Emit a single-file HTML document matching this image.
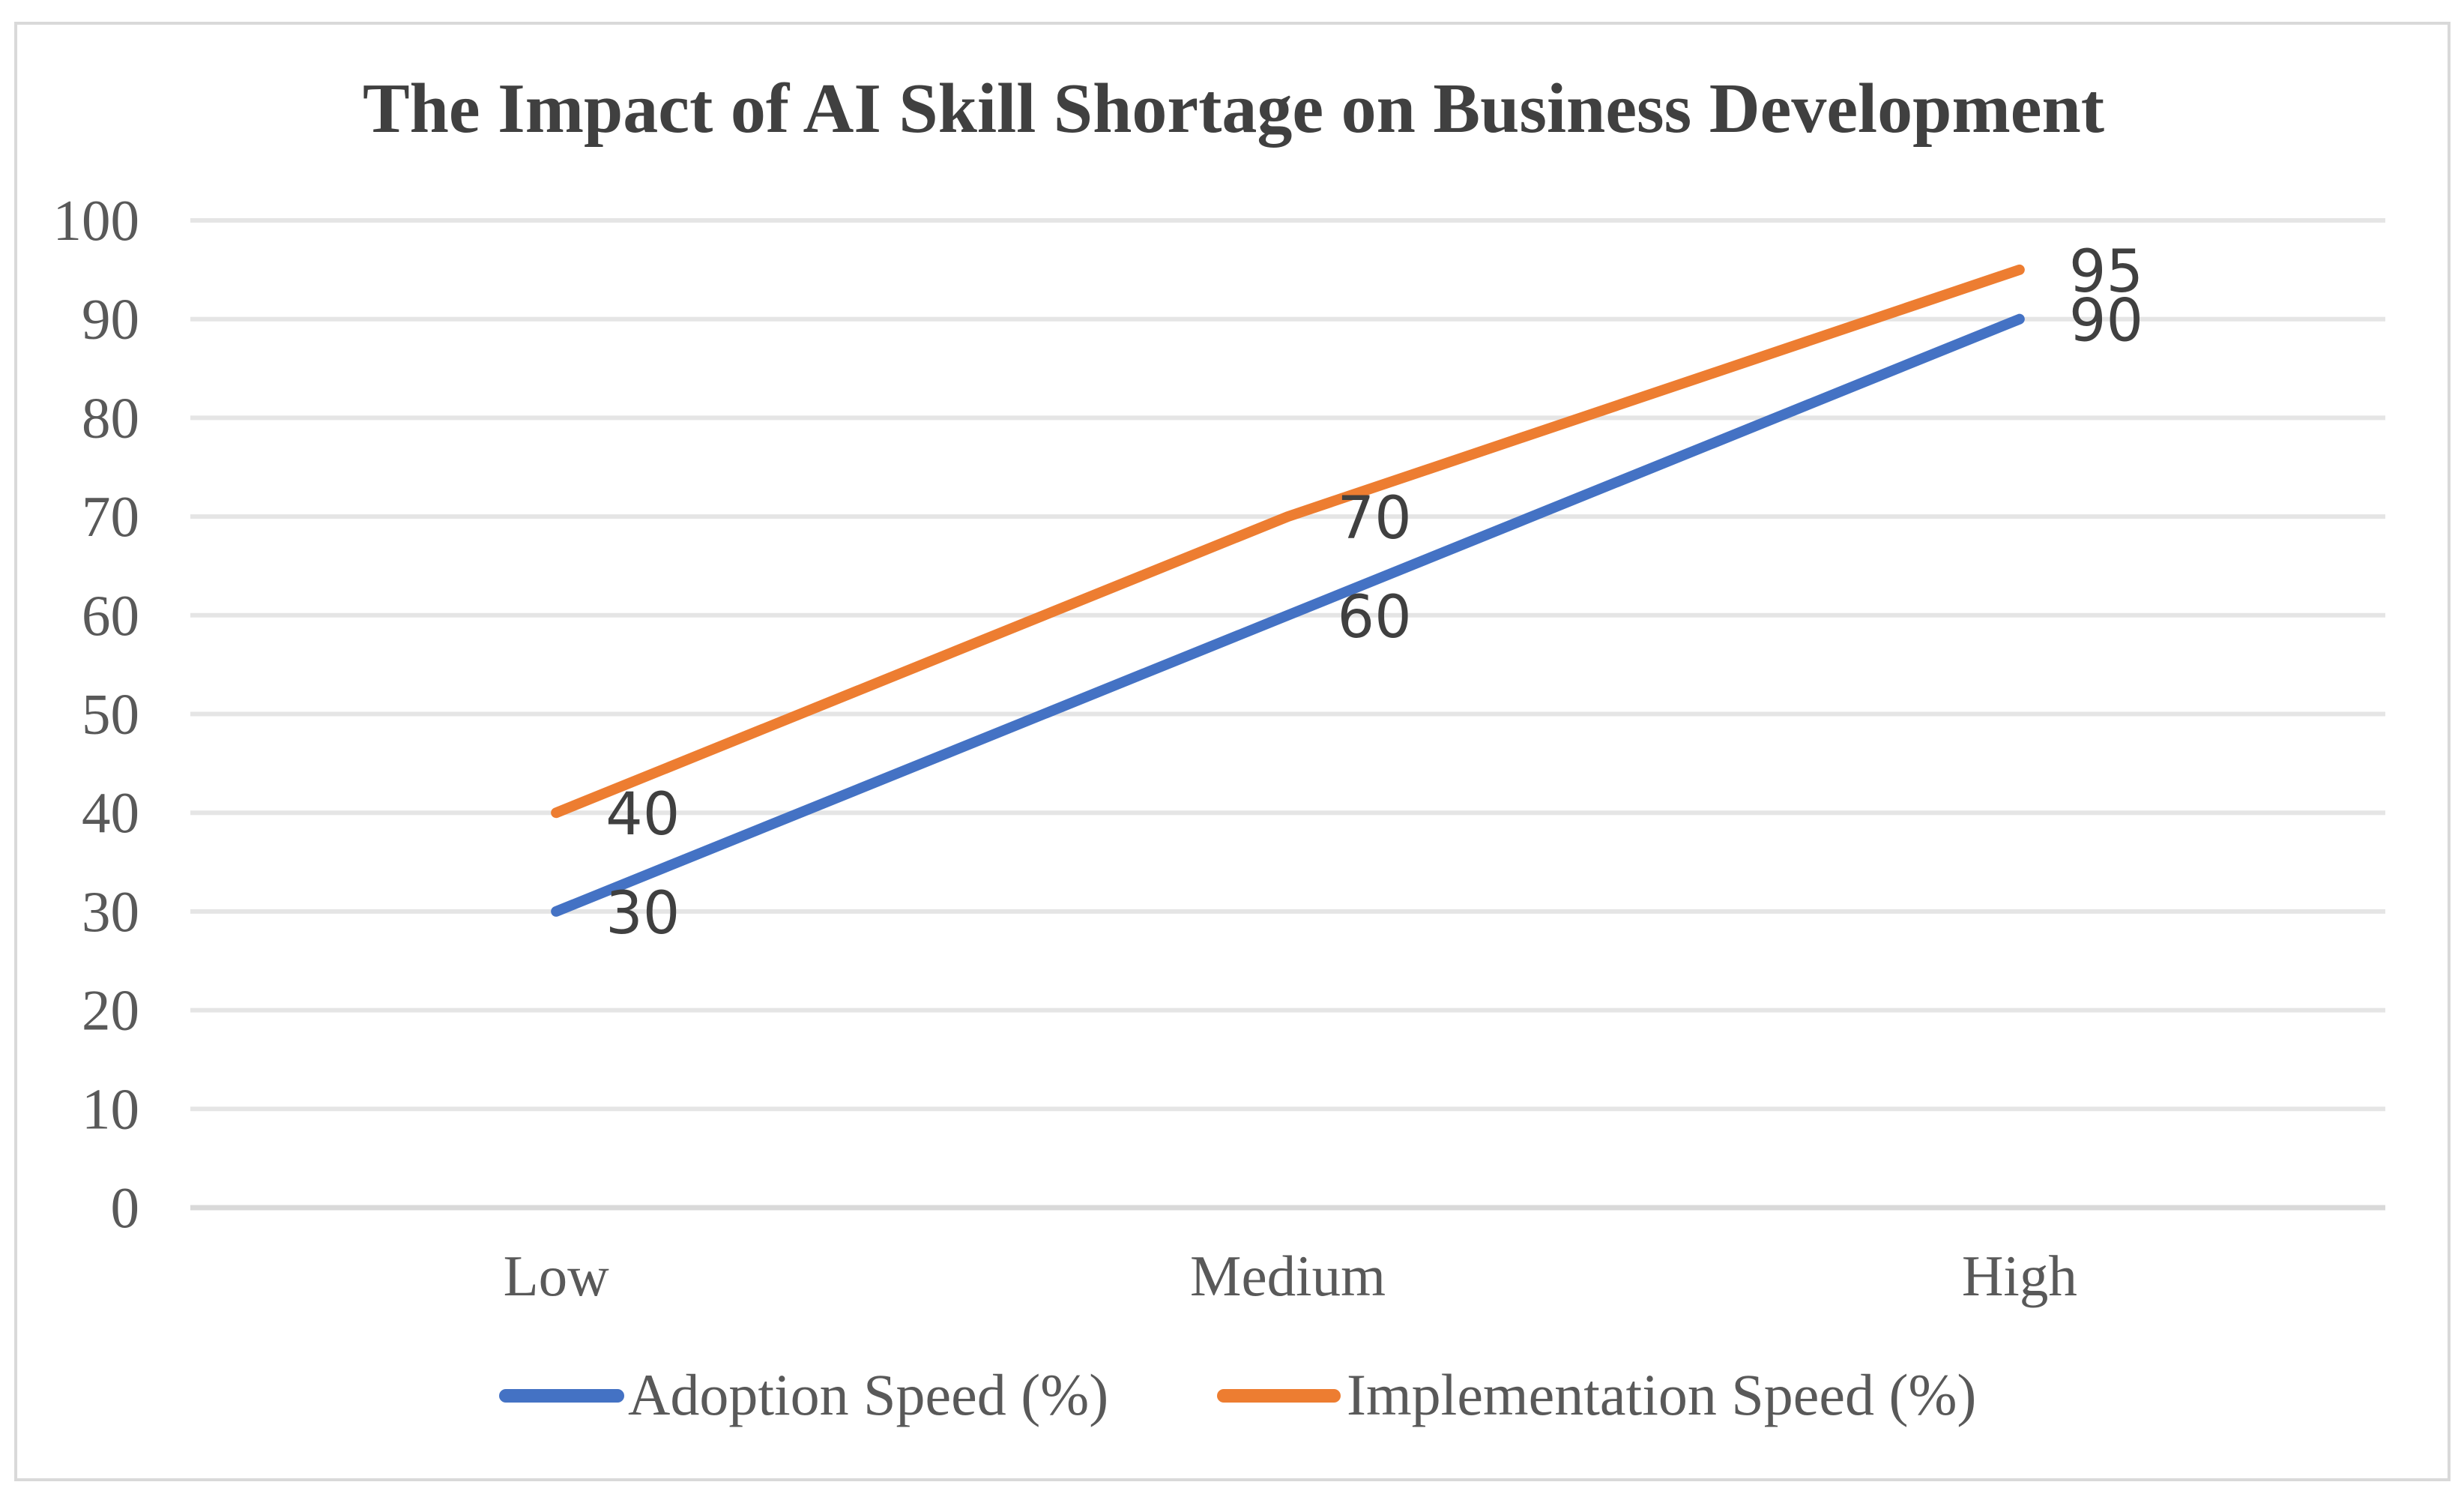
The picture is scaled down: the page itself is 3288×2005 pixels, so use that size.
<!DOCTYPE html>
<html><head><meta charset="utf-8"><style>
html,body{margin:0;padding:0;background:#fff;}
svg{display:block;}
</style></head><body>
<svg id="chart" width="3288" height="2005" xmlns="http://www.w3.org/2000/svg">
<rect x="21" y="31" width="3247" height="1943" fill="#fff" stroke="#d9d9d9" stroke-width="4"/>
<text x="1646" y="176" text-anchor="middle" font-family="Liberation Serif, serif" font-weight="bold" font-size="94" fill="#404040">The Impact of AI Skill Shortage on Business Development</text>
<g id="grid"></g><g id="series"></g><g id="labels"></g>
<g>
<line x1="675" y1="1862" x2="824" y2="1862" stroke="#4472C4" stroke-width="18" stroke-linecap="round"/>
<text x="838" y="1887" font-family="Liberation Serif, serif" font-size="78" fill="#595959">Adoption Speed (%)</text>
<line x1="1633" y1="1862" x2="1780" y2="1862" stroke="#ED7D31" stroke-width="18" stroke-linecap="round"/>
<text x="1797" y="1887" font-family="Liberation Serif, serif" font-size="78" fill="#595959">Implementation Speed (%)</text>
</g>
</svg>
<script>
const categories = ["Low", "Medium", "High"];
const adoption = [30, 60, 90];
const implementation = [40, 70, 95];
const yTicks = [0, 10, 20, 30, 40, 50, 60, 70, 80, 90, 100];
const NS = "http://www.w3.org/2000/svg";
const L = 254, R = 3183, T = 294, B = 1611, yMax = 100;
const y = v => B - (v / yMax) * (B - T);
const bw = (R - L) / categories.length;
const x = i => L + bw * (i + 0.5);
function mk(tag, attrs, parent) { const e = document.createElementNS(NS, tag); for (const k in attrs) e.setAttribute(k, attrs[k]); parent.appendChild(e); return e; }
const grid = document.getElementById('grid');
yTicks.forEach(t => {
  const ln = mk('line', {x1: L, x2: R, y1: y(t), y2: y(t), stroke: t === 0 ? '#d9d9d9' : '#e5e5e5', 'stroke-width': t === 0 ? 7 : 6}, grid);
  
  
  const tx = mk('text', {x: 186, y: y(t) + 26, 'text-anchor': 'end', 'font-family': 'Liberation Serif, serif', 'font-size': 77, fill: '#595959'}, grid);
  tx.textContent = t;
  
  
});
categories.forEach((c, i) => {
  const tx = mk('text', {x: x(i), y: 1728, 'text-anchor': 'middle', 'font-family': 'Liberation Serif, serif', 'font-size': 77, fill: '#595959'}, grid);
  tx.textContent = c;
  
  
});
const series = document.getElementById('series'), labels = document.getElementById('labels');
[[adoption, '#4472C4', 'adoption'], [implementation, '#ED7D31', 'implementation']].forEach(([vals, col, nm]) => {
  const pl = mk('polyline', {points: vals.map((v, i) => x(i) + ',' + y(v)).join(' '), fill: 'none', stroke: col, 'stroke-width': 14, 'stroke-linecap': 'round', 'stroke-linejoin': 'round'}, series);
  
  
  vals.forEach((v, i) => {
    const tx = mk('text', {x: x(i) + 66, y: y(v) + 29, 'font-family': 'DejaVu Sans, Liberation Sans, sans-serif', 'font-size': 78, fill: '#404040'}, labels);
    tx.textContent = v;
    
    
  });
});
</script>
</body></html>
